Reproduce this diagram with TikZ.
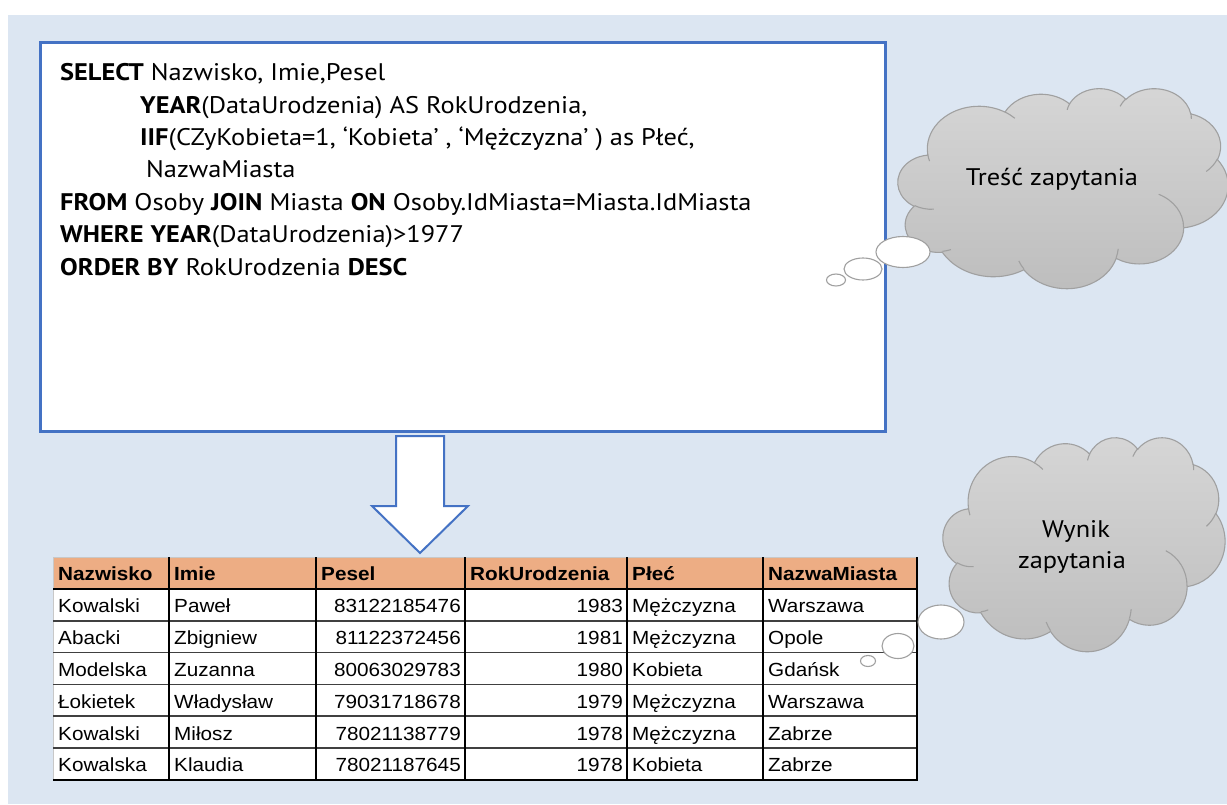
\documentclass[tikz,border=0pt]{standalone}
\usepackage{fontspec}
\setmainfont[FakeStretch=1.09]{Liberation Sans}
\newfontfamily\humsans[FakeStretch=1.1]{PT Sans}
\usetikzlibrary{shapes.geometric}

\definecolor{bgblue}{HTML}{DCE6F2}
\definecolor{boxblue}{HTML}{4472C4}
\definecolor{hdrfill}{HTML}{EDAD84}
\definecolor{cloudline}{HTML}{A0A0A0}
\definecolor{cloudtop}{HTML}{D6D6D6}
\definecolor{cloudbot}{HTML}{BDBDBD}
\definecolor{gridgray}{HTML}{C8C8C8}

% Elliptic arc given by half-axes (in a 43200-unit shape space) and a
% visual start angle / sweep in degrees; scaled to the current cloud box.
\newcommand\cldW{1}
\newcommand\cldH{1}
\tikzset{
  ooarc/.code args={#1/#2/#3/#4}{%
    \pgfmathsetmacro\ooA{#3}%
    \pgfmathsetmacro\ooB{#3+#4}%
    \pgfmathsetmacro\ooTs{atan2(#1*sin(\ooA), #2*cos(\ooA))}%
    \pgfmathsetmacro\ooTe{atan2(#1*sin(\ooB), #2*cos(\ooB))}%
    \pgfmathsetmacro\ooD{\ooTe-\ooTs}%
    \pgfmathsetmacro\ooD{#4>0 ? (\ooD<0 ? \ooD+360 : \ooD) : (\ooD>0 ? \ooD-360 : \ooD)}%
    \pgfmathsetmacro\ooRx{#1/432/100*\cldW}%
    \pgfmathsetmacro\ooRy{#2/432/100*\cldH}%
    \tikzset{insert path={arc[x radius=\ooRx, y radius=\ooRy, start angle=\ooTs, delta angle=\ooD]}}%
  },
  sqlline/.style={anchor=base west, inner sep=0, font=\humsans\fontsize{24}{28}\selectfont},
  cloudtext/.style={anchor=base, inner sep=0, font=\humsans\fontsize{24}{28}\selectfont},
  cloudbody/.style={draw=cloudline, line width=1.1, top color=cloudtop, bottom color=cloudbot},
  cloudcrease/.style={draw=cloudline, line width=1.1},
  bubble/.style={ellipse, draw=cloudline, line width=1.1, fill=white, inner sep=0},
  cellL/.style={anchor=base west, inner sep=0, font=\fontsize{19}{22}\selectfont},
  cellR/.style={anchor=base east, inner sep=0, font=\fontsize{19}{22}\selectfont},
  hcell/.style={anchor=base west, inner sep=0, font=\bfseries\fontsize{19}{22}\selectfont},
}

% point at fractions (#5,#6) of the box with corner (#1,#2) and size #3 x #4
\newcommand\cpt[6]{(#1+#5*#3, #2+#6*#4)}

% #1 name, #2,#3 top-left corner, #4 width, #5 height
\newcommand\thoughtcloud[5]{%
  \renewcommand\cldW{#4}\renewcommand\cldH{#5}%
  \coordinate (#1) at (#2+#4/2,#3+#5/2);
  \path[cloudbody] \cpt{#2}{#3}{#4}{#5}{0.09028}{0.33264}
    [ooarc=6753/9190/-190.4875/123.7805]
    [ooarc=5333/7267/-144.1024/89.9452]
    [ooarc=4365/5945/-145.8079/99.7230]
    [ooarc=4857/6595/-130.9861/117.2417]
    [ooarc=5333/7273/-78.7089/109.0269]
    [ooarc=6775/9220/-46.2673/130.2690]
    [ooarc=5785/7867/0.6250/114.0333]
    [ooarc=6752/9215/22.4516/115.1726]
    [ooarc=7720/10543/66.2426/75.7110]
    [ooarc=4360/5918/-274.9421/146.7356]
    [ooarc=4345/5945/-246.8285/152.5189] -- cycle;
  \path[cloudcrease]
    \cpt{#2}{#3}{#4}{#5}{0.10863}{0.60595} [ooarc=4345/5945/86.7420/26.4295]
    \cpt{#2}{#3}{#4}{#5}{0.16037}{0.80785} [ooarc=4360/5918/73.6105/11.4475]
    \cpt{#2}{#3}{#4}{#5}{0.38144}{0.90486} [ooarc=6752/9215/137.6242/14.0811]
    \cpt{#2}{#3}{#4}{#5}{0.66729}{0.80442} [ooarc=6752/9215/6.4533/15.9984]
    \cpt{#2}{#3}{#4}{#5}{0.79002}{0.53134} [ooarc=5785/7867/-70.2924/70.9174]
    \cpt{#2}{#3}{#4}{#5}{0.96755}{0.35542} [ooarc=5333/7273/30.3180/27.7515]
    \cpt{#2}{#3}{#4}{#5}{0.88713}{0.12560} [ooarc=4857/6595/-13.7443/14.8589]
    \cpt{#2}{#3}{#4}{#5}{0.67310}{0.09148} [ooarc=4857/6595/-149.1815/18.1954]
    \cpt{#2}{#3}{#4}{#5}{0.51252}{0.10926} [ooarc=4365/5945/-163.4943/17.6864]
    \cpt{#2}{#3}{#4}{#5}{0.32407}{0.12019} [ooarc=6753/9190/-66.7070/12.3194]
    \cpt{#2}{#3}{#4}{#5}{0.09553}{0.36549} [ooarc=6753/9190/157.6544/11.8582];
}

\begin{document}
\begin{tikzpicture}[x=1pt,y=-1pt]
% page and panel background
\fill[white] (0,0) rectangle (1227,804);
\fill[bgblue] (8,15) rectangle (1227,804);
\useasboundingbox (0,0) rectangle (1227,804);

% query box
\node[draw=boxblue, line width=3, fill=white, minimum width=845, minimum height=389,
      inner sep=0, anchor=north west] (query) at (39,41) {};

\node[sqlline] (l1) at (60,80)  {\textbf{SELECT} Nazwisko, Imie,Pesel};
\node[sqlline] (l2) at (140,113) {\textbf{YEAR}(DataUrodzenia) AS RokUrodzenia,};
\node[sqlline] (l3) at (140,145) {\textbf{IIF}(CZyKobieta=1, ‘Kobieta’ , ‘Mężczyzna’ ) as Płeć,};
\node[sqlline] (l4) at (146,177) {NazwaMiasta};
\node[sqlline] (l5) at (60,210) {\textbf{FROM} Osoby \textbf{JOIN} Miasta \textbf{ON} Osoby.IdMiasta=Miasta.IdMiasta};
\node[sqlline] (l6) at (60,242) {\textbf{WHERE} \textbf{YEAR}(DataUrodzenia)>1977};
\node[sqlline] (l7) at (60,275) {\textbf{ORDER BY} RokUrodzenia \textbf{DESC}};

% block arrow from the query to its result
\draw[boxblue, line width=2, fill=white, line join=miter]
  (396,436) -- (444,436) -- (444,506) -- (468,506) -- (420,553)
  -- (372,506) -- (396,506) -- cycle;

% result table
\fill[hdrfill] (53,557) rectangle (917,589);
\fill[white] (53,589) rectangle (917,780);
\draw[gridgray, line width=1] (53,780) -- (53,557) -- (917,557);
\foreach \yy in {620.8,652.6,684.4,716.2,748}
  \draw[black!75, line width=1.5] (53,\yy) -- (917,\yy);
\draw[black, line width=2] (53,589) -- (917,589);
\draw[black, line width=2] (53,780) -- (918,780);
\foreach \xx in {169,316,465,627,763,917}
  \draw[black, line width=2] (\xx,557) -- (\xx,781);

% header row
\foreach \txt [count=\c] in {Nazwisko,Imie,Pesel,RokUrodzenia,Płeć,NazwaMiasta}{
  \pgfmathsetmacro{\xl}{{53,169,316,465,627,763}[\c-1]}
  \node[hcell] (h\c) at (\xl+5,580) {\txt};
}

% data rows
\foreach \nm/\im/\ps/\rk/\pl/\mi [count=\r] in {
  Kowalski/Paweł/83122185476/1983/Mężczyzna/Warszawa,
  Abacki/Zbigniew/81122372456/1981/Mężczyzna/Opole,
  Modelska/Zuzanna/80063029783/1980/Kobieta/Gdańsk,
  Łokietek/Władysław/79031718678/1979/Mężczyzna/Warszawa,
  Kowalski/Miłosz/78021138779/1978/Mężczyzna/Zabrze,
  Kowalska/Klaudia/78021187645/1978/Kobieta/Zabrze}{
  \pgfmathsetmacro{\yb}{589+31.8*\r-8}
  \node[cellL] (r\r c1) at (58,\yb)  {\nm};
  \node[cellL] (r\r c2) at (174,\yb) {\im};
  \node[cellR] (r\r c3) at (461,\yb) {\ps};
  \node[cellR] (r\r c4) at (623,\yb) {\rk};
  \node[cellL] (r\r c5) at (632,\yb) {\pl};
  \node[cellL] (r\r c6) at (768,\yb) {\mi};
}

% thought cloud for the query
\thoughtcloud{cq}{898}{88}{330}{200}
\node[cloudtext] (tq) at (1052,185) {Treść zapytania};
\node[bubble, minimum width=54, minimum height=31] (cq1) at (903,252) {};
\node[bubble, minimum width=38, minimum height=22] (cq2) at (863,269) {};
\node[bubble, minimum width=19, minimum height=12] (cq3) at (836,280) {};

% thought cloud for the result
\thoughtcloud{cr}{943}{437}{282}{214}
\node[cloudtext] (tr1) at (1076,537) {Wynik};
\node[cloudtext] (tr2) at (1072,568) {zapytania};
\node[bubble, minimum width=46, minimum height=34] (cr1) at (941,622) {};
\node[bubble, minimum width=32, minimum height=25] (cr2) at (898,646) {};
\node[bubble, minimum width=15, minimum height=11] (cr3) at (868,661) {};
\end{tikzpicture}
\end{document}
